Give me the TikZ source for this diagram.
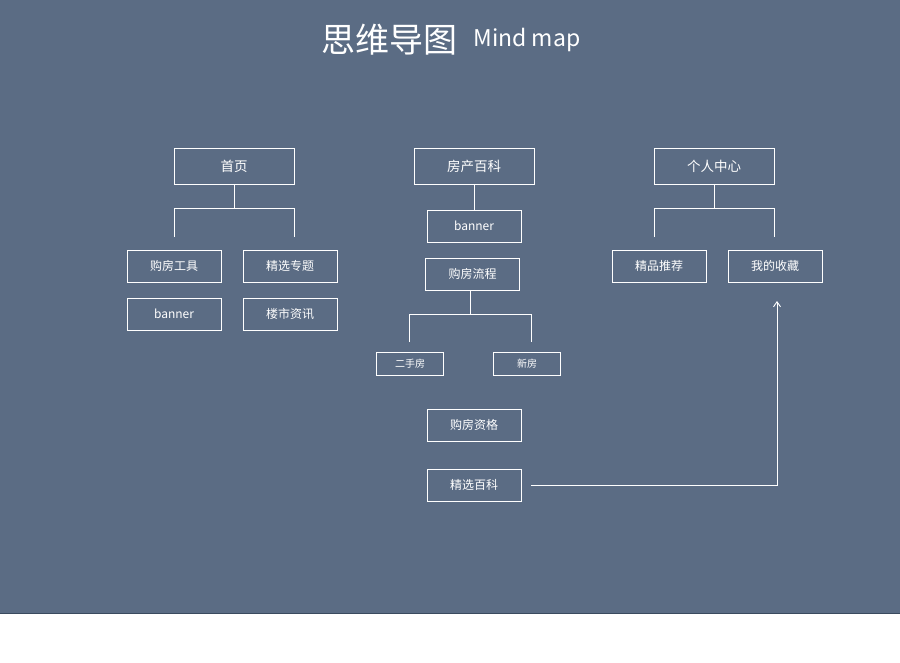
\documentclass[tikz,border=0pt]{standalone}
\usepackage{fontspec}
\setmainfont{Noto Sans CJK SC}
\usetikzlibrary{arrows.meta}
\definecolor{bg}{HTML}{5B6C84}
\definecolor{bgline}{HTML}{3A4A5E}
\begin{document}
\begin{tikzpicture}[x=1pt,y=-1pt,
  box/.style={draw=white,line width=0.9pt,text=white,minimum width=94pt,minimum height=32pt,inner sep=0pt,font=\fontsize{12}{14}\selectfont},
  topbox/.style={box,minimum width=120pt,minimum height=36pt,font=\fontsize{13.5}{16}\selectfont},
  smallbox/.style={box,minimum width=67pt,minimum height=23pt,font=\fontsize{10}{12}\selectfont},
  link/.style={draw=white,line width=0.9pt}]
\useasboundingbox (0,0) rectangle (900,662);
\fill[white] (0,0) rectangle (900,662);
\fill[bg] (0,0) rectangle (900,613);
\draw[bgline,line width=1pt] (0,613) -- (900,613);
\node[text=white,anchor=east,font=\fontsize{34}{40}\selectfont] (title) at (461,40) {思维导图};
\node[text=white,anchor=west,font=\fontsize{23}{28}\selectfont] (sub) at (470,40) {Mind map};
% column 1
\node[topbox] (home) at (234,166) {首页};
\node[box] (tool) at (174,266) {购房工具};
\node[box] (topic) at (290,266) {精选专题};
\node[box] (ban1) at (174,314) {banner};
\node[box] (news) at (290,314) {楼市资讯};
\coordinate (h1) at (234,208);
\coordinate (h1l) at (174,208);
\coordinate (h1r) at (294,208);
\coordinate (h1le) at (174,237);
\coordinate (h1re) at (294,237);
\draw[link] (home.south) -- (h1);
\draw[link] (h1le) -- (h1l) -- (h1r) -- (h1re);
% column 2
\node[topbox] (wiki) at (474,166) {房产百科};
\node[box] (ban2) at (474,226) {banner};
\node[box] (flow) at (472.5,274) {购房流程};
\node[smallbox] (second) at (410,364) {二手房};
\node[smallbox] (newh) at (527,364) {新房};
\node[box] (qual) at (474,425) {购房资格};
\node[box] (best) at (474,485) {精选百科};
\draw[link] (wiki.south) -- (ban2.north);
\coordinate (f1) at (470,314);
\coordinate (f1l) at (409,314);
\coordinate (f1r) at (531,314);
\coordinate (f1le) at (409,342);
\coordinate (f1re) at (531,342);
\draw[link] (flow.south -| f1) -- (f1);
\draw[link] (f1le) -- (f1l) -- (f1r) -- (f1re);
% column 3
\node[topbox] (me) at (714,166) {个人中心};
\node[box] (rec) at (659,266) {精品推荐};
\node[box] (fav) at (775,266) {我的收藏};
\coordinate (m1) at (714,208);
\coordinate (m1l) at (654,208);
\coordinate (m1r) at (774,208);
\coordinate (m1le) at (654,237);
\coordinate (m1re) at (774,237);
\draw[link] (me.south) -- (m1);
\draw[link] (m1le) -- (m1l) -- (m1r) -- (m1re);
% arrow
\coordinate (a0) at (531,485);
\coordinate (a1) at (777,485);
\coordinate (a2) at (777,301);
\draw[link,-{Straight Barb[length=5pt,width=7pt]}] (a0) -- (a1) -- (a2);
\end{tikzpicture}
\end{document}
